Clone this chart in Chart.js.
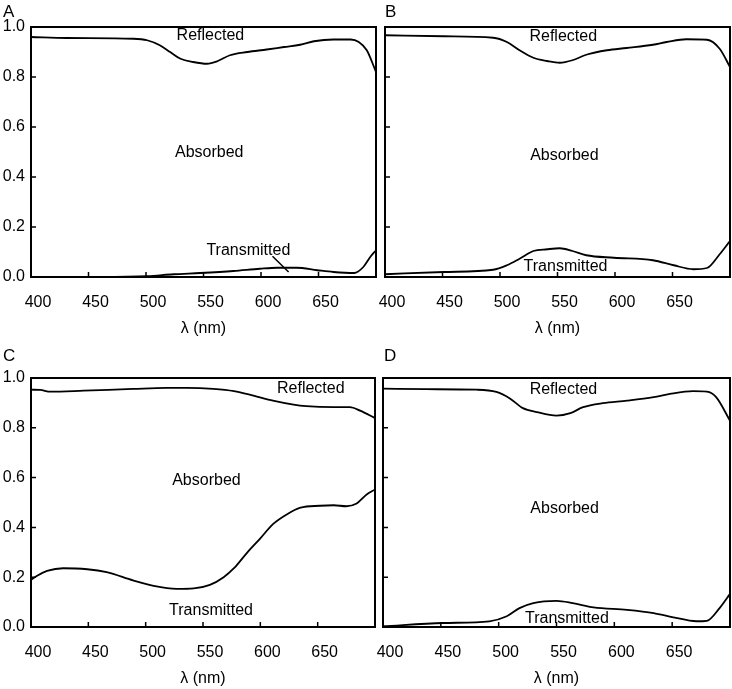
<!DOCTYPE html>
<html>
<head>
<meta charset="utf-8">
<script src="https://cdn.jsdelivr.net/npm/chart.js@4.4.1/dist/chart.umd.min.js"></script>
<style>
  body { margin: 0; background: #fff; width: 732px; height: 689px; position: relative; overflow: hidden; font-family: "Liberation Sans", Arial, sans-serif; }
  canvas { position: absolute; }
  .tag { position: absolute; font-size: 17px; line-height: 1; color: #000; }
</style>
</head>
<body>
<canvas id="panelA" width="380" height="340" style="left:0;top:0"></canvas>
<canvas id="panelB" width="366" height="340" style="left:366px;top:0"></canvas>
<canvas id="panelC" width="380" height="349" style="left:0;top:340px"></canvas>
<canvas id="panelD" width="366" height="349" style="left:366px;top:340px"></canvas>
<div class="tag" style="left:3px;top:3px">A</div>
<div class="tag" style="left:385px;top:3px">B</div>
<div class="tag" style="left:3px;top:347px">C</div>
<div class="tag" style="left:384px;top:347px">D</div>
<script>
// wavelength (nm) and fractions
const aReflNm = [400, 431, 489, 501, 512, 521, 530, 541, 553, 562, 573, 588, 605, 620, 634, 646, 663, 678, 685, 692, 700];
const aRefl = [0.96, 0.956, 0.953, 0.947, 0.927, 0.9, 0.873, 0.86, 0.853, 0.863, 0.887, 0.9, 0.91, 0.92, 0.929, 0.943, 0.95, 0.95, 0.94, 0.907, 0.82];
const aTransNm = [400, 460, 501, 524, 547, 576, 599, 614, 631, 649, 663, 681, 689, 695, 700];
const aTrans = [0, 0, 0.003, 0.011, 0.016, 0.024, 0.033, 0.037, 0.037, 0.027, 0.02, 0.016, 0.04, 0.08, 0.107];

const bReflNm = [400, 451, 494, 506, 517, 529, 541, 552, 563, 575, 593, 610, 633, 645, 662, 680, 691, 700];
const bRefl = [0.967, 0.963, 0.957, 0.94, 0.907, 0.877, 0.864, 0.857, 0.867, 0.889, 0.907, 0.916, 0.929, 0.94, 0.951, 0.949, 0.913, 0.84];
const bTransNm = [400, 451, 494, 506, 517, 529, 541, 552, 563, 575, 599, 633, 651, 668, 680, 691, 700];
const bTrans = [0.011, 0.02, 0.029, 0.047, 0.073, 0.104, 0.111, 0.115, 0.104, 0.087, 0.077, 0.067, 0.047, 0.031, 0.036, 0.091, 0.144];

const cReflNm = [400, 408, 417, 446, 489, 518, 536, 559, 577, 594, 611, 629, 640, 664, 678, 687, 700];
const cRefl = [0.953, 0.952, 0.945, 0.949, 0.956, 0.96, 0.96, 0.956, 0.947, 0.929, 0.909, 0.893, 0.887, 0.883, 0.883, 0.869, 0.839];
const cTransNm = [400, 405, 414, 428, 449, 466, 489, 507, 527, 542, 556, 568, 577, 588, 600, 611, 623, 635, 652, 664, 675, 684, 693, 700];
const cTrans = [0.189, 0.205, 0.225, 0.236, 0.232, 0.22, 0.187, 0.165, 0.153, 0.155, 0.169, 0.2, 0.236, 0.296, 0.356, 0.413, 0.452, 0.479, 0.487, 0.489, 0.485, 0.496, 0.533, 0.552];

const dReflNm = [400, 437, 481, 498, 510, 521, 533, 550, 562, 573, 590, 611, 634, 648, 668, 680, 688, 700];
const dRefl = [0.957, 0.955, 0.953, 0.944, 0.917, 0.879, 0.863, 0.849, 0.859, 0.883, 0.899, 0.909, 0.923, 0.936, 0.947, 0.945, 0.923, 0.829];
const dTransNm = [400, 452, 492, 507, 518, 530, 550, 564, 582, 611, 634, 651, 671, 680, 691, 700];
const dTrans = [0.003, 0.016, 0.023, 0.043, 0.076, 0.096, 0.105, 0.096, 0.079, 0.069, 0.056, 0.039, 0.023, 0.025, 0.076, 0.133];

const xTicks = [400, 450, 500, 550, 600, 650, 700];
const yTicks = [0, 0.2, 0.4, 0.6, 0.8, 1.0];

const FONT = '"Liberation Sans", Arial, sans-serif';
Chart.defaults.font.family = FONT;
Chart.defaults.font.size = 16;
Chart.defaults.color = '#000';

const toPoints = (xs, ys) => xs.map((x, i) => ({ x, y: ys[i] }));

const framePlugin = (notes, leader) => ({
  id: 'frame',
  afterDatasetsDraw(chart) {
    const { ctx, chartArea: a, scales: { x, y } } = chart;
    ctx.save();
    ctx.strokeStyle = '#000';
    ctx.lineWidth = 2;
    ctx.strokeRect(a.left, a.top, a.right - a.left, a.bottom - a.top);

    // inward tick marks
    ctx.lineWidth = 1.5;
    ctx.beginPath();
    x.ticks.forEach(t => {
      if (t.value <= x.min || t.value >= x.max) return;
      const px = x.getPixelForValue(t.value);
      ctx.moveTo(px, a.bottom);
      ctx.lineTo(px, a.bottom - 5);
    });
    y.ticks.forEach(t => {
      if (t.value <= y.min || t.value >= y.max) return;
      const py = y.getPixelForValue(t.value);
      ctx.moveTo(a.left, py);
      ctx.lineTo(a.left + 5, py);
    });
    if (leader) {
      ctx.moveTo(x.getPixelForValue(leader[0]), y.getPixelForValue(leader[1]));
      ctx.lineTo(x.getPixelForValue(leader[2]), y.getPixelForValue(leader[3]));
    }
    ctx.stroke();

    ctx.font = `16px ${FONT}`;
    ctx.fillStyle = '#000';
    ctx.textAlign = 'center';
    ctx.textBaseline = 'middle';
    notes.forEach(n => ctx.fillText(n.text, x.getPixelForValue(n.x), y.getPixelForValue(n.y)));
    ctx.restore();
  }
});

const line = (xs, ys) => ({
  data: toPoints(xs, ys),
  borderColor: '#000',
  borderWidth: 1.8,
  pointRadius: 0,
  cubicInterpolationMode: 'monotone',
  fill: false
});

function makePanel(id, p) {
  new Chart(document.getElementById(id), {
    type: 'line',
    data: { datasets: [line(p.reflNm, p.refl), line(p.transNm, p.trans)] },
    options: {
      responsive: false,
      animation: false,
      layout: { padding: { top: p.top, right: p.right, left: 0, bottom: 0 } },
      plugins: { legend: { display: false }, tooltip: { enabled: false } },
      scales: {
        x: {
          type: 'linear',
          min: xTicks[0],
          max: xTicks[xTicks.length - 1],
          afterBuildTicks: s => { s.ticks = xTicks.map(v => ({ value: v })); },
          ticks: { padding: 16, labelOffset: 7, maxRotation: 0, autoSkip: false, callback: v => (v === 700 ? '' : v) },
          grid: { display: false, drawTicks: false },
          border: { display: false },
          title: { display: true, text: 'λ (nm)', font: { size: 16 }, padding: { top: 0, bottom: p.titlePad } },
          afterFit: s => {
            s.height = p.xAxisH;
            s.paddingLeft = 0;
            s.paddingRight = 0;
          }
        },
        y: {
          min: 0,
          max: 1,
          afterBuildTicks: s => { s.ticks = yTicks.map(v => ({ value: v })); },
          ticks: { display: p.yLabels, padding: 6, callback: v => v.toFixed(1) },
          grid: { display: false, drawTicks: false },
          border: { display: false },
          afterFit: s => {
            s.width = p.yAxisW;
            s.paddingTop = 0;
            s.paddingBottom = 0;
          }
        }
      }
    },
    plugins: [framePlugin(p.notes, p.leader)]
  });
}

makePanel('panelA', {
  reflNm: aReflNm, refl: aRefl, transNm: aTransNm, trans: aTrans,
  top: 27, right: 4, yAxisW: 31, xAxisH: 63, titlePad: 2, yLabels: true,
  notes: [
    { text: 'Reflected', x: 556, y: 0.967 },
    { text: 'Absorbed', x: 555, y: 0.496 },
    { text: 'Transmitted', x: 589, y: 0.107 }
  ],
  leader: [610, 0.083, 624, 0.02]
});

makePanel('panelB', {
  reflNm: bReflNm, refl: bRefl, transNm: bTransNm, trans: bTrans,
  top: 27, right: 2, yAxisW: 19, xAxisH: 63, titlePad: 2, yLabels: false,
  notes: [
    { text: 'Reflected', x: 555, y: 0.963 },
    { text: 'Absorbed', x: 556, y: 0.484 },
    { text: 'Transmitted', x: 557, y: 0.043 }
  ]
});

makePanel('panelC', {
  reflNm: cReflNm, refl: cRefl, transNm: cTransNm, trans: cTrans,
  top: 38, right: 5, yAxisW: 31, xAxisH: 62, titlePad: 1, yLabels: true,
  notes: [
    { text: 'Reflected', x: 644, y: 0.956 },
    { text: 'Absorbed', x: 553, y: 0.587 },
    { text: 'Transmitted', x: 557, y: 0.067 }
  ]
});

makePanel('panelD', {
  reflNm: dReflNm, refl: dRefl, transNm: dTransNm, trans: dTrans,
  top: 38, right: 2, yAxisW: 17, xAxisH: 62, titlePad: 1, yLabels: false,
  notes: [
    { text: 'Reflected', x: 556, y: 0.955 },
    { text: 'Absorbed', x: 557, y: 0.477 },
    { text: 'Transmitted', x: 559, y: 0.032 }
  ]
});
</script>
</body>
</html>
